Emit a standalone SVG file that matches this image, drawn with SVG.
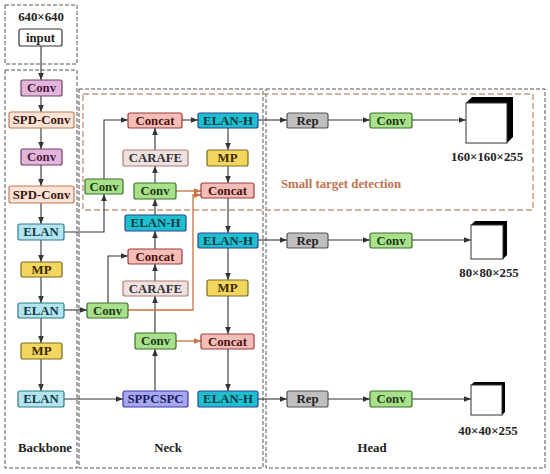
<svg xmlns="http://www.w3.org/2000/svg" width="550" height="474" viewBox="0 0 550 474">
<defs>
<marker id="ah" viewBox="0 0 10 10" refX="10" refY="5" markerWidth="7" markerHeight="7" markerUnits="userSpaceOnUse" orient="auto"><path d="M0,1 L10,5 L0,9 z" fill="#333"/></marker>
<marker id="ao" viewBox="0 0 10 10" refX="10" refY="5" markerWidth="7" markerHeight="7" markerUnits="userSpaceOnUse" orient="auto"><path d="M0,1 L10,5 L0,9 z" fill="#C8703F"/></marker>
</defs>
<style>
text{font-family:"Liberation Serif","Times New Roman",serif;font-weight:bold;font-size:12.8px;text-anchor:middle;dominant-baseline:central;fill:#222}
.box{stroke-width:1.2}
.frame{fill:none;stroke:#555;stroke-width:1;stroke-dasharray:4 2}
.pframe{fill:none;stroke:#C89680;stroke-width:1.4;stroke-dasharray:6 3}
.conv rect{fill:#A8E08C;stroke:#3C6E2C}
.conv text{fill:#1e3a14}
.pconv rect{fill:#E2B6DA;stroke:#6E3E66}
.pconv text{fill:#4a1a44}
.spd rect{fill:#FBE4D7;stroke:#C17B52}
.spd text{fill:#3a1a10}
.elan rect{fill:#B5E4EE;stroke:#2C7D8C}
.elan text{fill:#0f3c48}
.mp rect{fill:#F2D65E;stroke:#7A6A22}
.mp text{fill:#3a2a00}
.concat rect{fill:#F5BDB7;stroke:#9C3C3C}
.concat text{fill:#4a1010}
.carafe rect{fill:#EEE1E1;stroke:#B47C6C}
.carafe text{fill:#333}
.elanh rect{fill:#1FBFD0;stroke:#28458E}
.elanh text{fill:#0b3a44}
.spp rect{fill:#A8A8F2;stroke:#3C3CA2}
.spp text{fill:#1a1a5a}
.rep rect{fill:#BFBFBF;stroke:#555}
.inp rect{fill:#fff;stroke:#333}
.ln{fill:none;stroke:#333;stroke-width:1.1;marker-end:url(#ah)}
.lo{fill:none;stroke:#C8703F;stroke-width:1.3;marker-end:url(#ao)}
.cube{fill:#000}
</style>

<!-- frames -->
<g id="frames">
<rect class="frame" x="5" y="5" width="72" height="59"/>
<rect class="frame" x="5" y="70" width="72" height="398"/>
<rect class="frame" x="79" y="89" width="184" height="379"/>
<rect class="frame" x="266" y="89" width="279" height="379"/>
<rect class="pframe" x="83" y="94" width="450" height="116"/>
</g>

<g id="labels">
<text x="41" y="17">640×640</text>
<text x="45" y="448">Backbone</text>
<text x="168" y="448">Neck</text>
<text x="372" y="448">Head</text>
<text x="341" y="184" style="fill:#C0714F">Small target detection</text>
<text x="487" y="157">160×160×255</text>
<text x="489" y="273">80×80×255</text>
<text x="488" y="431">40×40×255</text>
</g>

<g id="connectors">
<!-- backbone -->
<path class="ln" d="M41,46 V80"/>
<path class="ln" d="M41,96 V112"/>
<path class="ln" d="M41,128 V149"/>
<path class="ln" d="M41,165 V186"/>
<path class="ln" d="M41,203 V224"/>
<path class="ln" d="M41,240 V262"/>
<path class="ln" d="M41,277 V303"/>
<path class="ln" d="M41,318 V343"/>
<path class="ln" d="M41,359 V391"/>
<!-- backbone to neck -->
<path class="ln" d="M64,232 H104 V194"/>
<path class="ln" d="M104,179 V120 H128"/>
<path class="ln" d="M64,310 H87"/>
<path class="ln" d="M108,303 V256 H128"/>
<path class="ln" d="M64,399 H123"/>
<!-- neck middle column -->
<path class="ln" d="M155,391 V349"/>
<path class="ln" d="M155,333 V296"/>
<path class="ln" d="M155,281 V264"/>
<path class="ln" d="M155,249 V231"/>
<path class="ln" d="M155,215 V199"/>
<path class="ln" d="M155,183 V166"/>
<path class="ln" d="M155,150 V128"/>
<!-- orange -->
<path class="lo" d="M176,191 H201"/>
<path class="lo" d="M128,310 H193 V195 H201"/>
<path class="lo" d="M176,341 H201"/>
<!-- neck right column -->
<path class="ln" d="M182,120 H198"/>
<path class="ln" d="M228,128 V150"/>
<path class="ln" d="M228,166 V183"/>
<path class="ln" d="M228,198 V233"/>
<path class="ln" d="M228,248 V280"/>
<path class="ln" d="M228,296 V334"/>
<path class="ln" d="M228,349 V391"/>
<!-- head -->
<path class="ln" d="M258,120 H287"/>
<path class="ln" d="M328,120 H370"/>
<path class="ln" d="M412,120 H466"/>
<path class="ln" d="M258,240 H287"/>
<path class="ln" d="M328,240 H370"/>
<path class="ln" d="M412,240 H471"/>
<path class="ln" d="M258,399 H287"/>
<path class="ln" d="M328,399 H370"/>
<path class="ln" d="M412,399 H471"/>
</g>

<!-- backbone nodes -->
<g id="input" class="inp box"><rect x="19" y="29" width="43" height="17" rx="2"/><text x="40.5" y="37.5">input</text></g>
<g id="bb_conv1" class="pconv box"><rect x="21" y="80" width="41" height="16" rx="2"/><text x="41.5" y="88">Conv</text></g>
<g id="bb_spd1" class="spd box"><rect x="9" y="112" width="65" height="16" rx="2"/><text x="41.5" y="120">SPD-Conv</text></g>
<g id="bb_conv2" class="pconv box"><rect x="21" y="149" width="41" height="16" rx="2"/><text x="41.5" y="157">Conv</text></g>
<g id="bb_spd2" class="spd box"><rect x="9" y="186" width="65" height="17" rx="2"/><text x="41.5" y="194.5">SPD-Conv</text></g>
<g id="bb_elan1" class="elan box"><rect x="18" y="224" width="46" height="16" rx="2"/><text x="41" y="232">ELAN</text></g>
<g id="bb_mp1" class="mp box"><rect x="21" y="262" width="41" height="15" rx="2"/><text x="41.5" y="269.5">MP</text></g>
<g id="bb_elan2" class="elan box"><rect x="18" y="303" width="46" height="15" rx="2"/><text x="41" y="310.5">ELAN</text></g>
<g id="bb_mp2" class="mp box"><rect x="21" y="343" width="41" height="16" rx="2"/><text x="41.5" y="351">MP</text></g>
<g id="bb_elan3" class="elan box"><rect x="18" y="391" width="46" height="16" rx="2"/><text x="41" y="399">ELAN</text></g>

<!-- neck nodes -->
<g id="nk_conv_a" class="conv box"><rect x="85" y="179" width="38" height="15" rx="2"/><text x="104" y="186.5">Conv</text></g>
<g id="nk_concat1" class="concat box"><rect x="128" y="113" width="54" height="15" rx="2"/><text x="155" y="120.5">Concat</text></g>
<g id="nk_carafe1" class="carafe box"><rect x="123" y="150" width="65" height="16" rx="2"/><text x="155.5" y="158">CARAFE</text></g>
<g id="nk_conv_b" class="conv box"><rect x="134" y="183" width="42" height="16" rx="2"/><text x="155" y="191">Conv</text></g>
<g id="nk_elanh1" class="elanh box"><rect x="125" y="215" width="61" height="16" rx="2"/><text x="155.5" y="223">ELAN-H</text></g>
<g id="nk_concat2" class="concat box"><rect x="128" y="249" width="54" height="15" rx="2"/><text x="155" y="256.5">Concat</text></g>
<g id="nk_carafe2" class="carafe box"><rect x="123" y="281" width="65" height="15" rx="2"/><text x="155.5" y="288.5">CARAFE</text></g>
<g id="nk_conv_c" class="conv box"><rect x="87" y="303" width="41" height="15" rx="2"/><text x="107.5" y="310.5">Conv</text></g>
<g id="nk_conv_d" class="conv box"><rect x="135" y="333" width="41" height="16" rx="2"/><text x="155.5" y="341">Conv</text></g>
<g id="nk_spp" class="spp box"><rect x="123" y="391" width="65" height="16" rx="2"/><text x="155.5" y="399">SPPCSPC</text></g>
<g id="nk_elanh2" class="elanh box"><rect x="198" y="113" width="60" height="15" rx="2"/><text x="228" y="120.5">ELAN-H</text></g>
<g id="nk_mp1" class="mp box"><rect x="207" y="150" width="41" height="16" rx="2"/><text x="227.5" y="158">MP</text></g>
<g id="nk_concat3" class="concat box"><rect x="201" y="183" width="53" height="15" rx="2"/><text x="227.5" y="190.5">Concat</text></g>
<g id="nk_elanh3" class="elanh box"><rect x="198" y="233" width="60" height="15" rx="2"/><text x="228" y="240.5">ELAN-H</text></g>
<g id="nk_mp2" class="mp box"><rect x="207" y="280" width="41" height="16" rx="2"/><text x="227.5" y="288">MP</text></g>
<g id="nk_concat4" class="concat box"><rect x="201" y="334" width="53" height="15" rx="2"/><text x="227.5" y="341.5">Concat</text></g>
<g id="nk_elanh4" class="elanh box"><rect x="198" y="391" width="60" height="16" rx="2"/><text x="228" y="399">ELAN-H</text></g>

<!-- head nodes -->
<g id="hd_rep1" class="rep box"><rect x="287" y="113" width="41" height="15" rx="2"/><text x="307.5" y="120.5">Rep</text></g>
<g id="hd_conv1" class="conv box"><rect x="370" y="113" width="42" height="15" rx="2"/><text x="391" y="120.5">Conv</text></g>
<g id="hd_rep2" class="rep box"><rect x="287" y="233" width="41" height="15" rx="2"/><text x="307.5" y="240.5">Rep</text></g>
<g id="hd_conv2" class="conv box"><rect x="370" y="233" width="42" height="15" rx="2"/><text x="391" y="240.5">Conv</text></g>
<g id="hd_rep3" class="rep box"><rect x="287" y="391" width="41" height="16" rx="2"/><text x="307.5" y="399">Rep</text></g>
<g id="hd_conv3" class="conv box"><rect x="370" y="391" width="42" height="16" rx="2"/><text x="391" y="399">Conv</text></g>

<g id="out1"><path class="cube" d="M466,103 L472,97 H513 V137 L507,143 V103 Z"/><rect x="466" y="103" width="41" height="40" fill="#fff" stroke="#333" stroke-width="1"/></g>
<g id="out2"><path class="cube" d="M471,225 L475,221 H507 V255 L503,259 V225 Z"/><rect x="471" y="225" width="32" height="34" fill="#fff" stroke="#333" stroke-width="1"/></g>
<g id="out3"><path class="cube" d="M471,385 L474,382 H505 V412 L502,415 V385 Z"/><rect x="471" y="385" width="31" height="30" fill="#fff" stroke="#333" stroke-width="1"/></g>
</svg>
